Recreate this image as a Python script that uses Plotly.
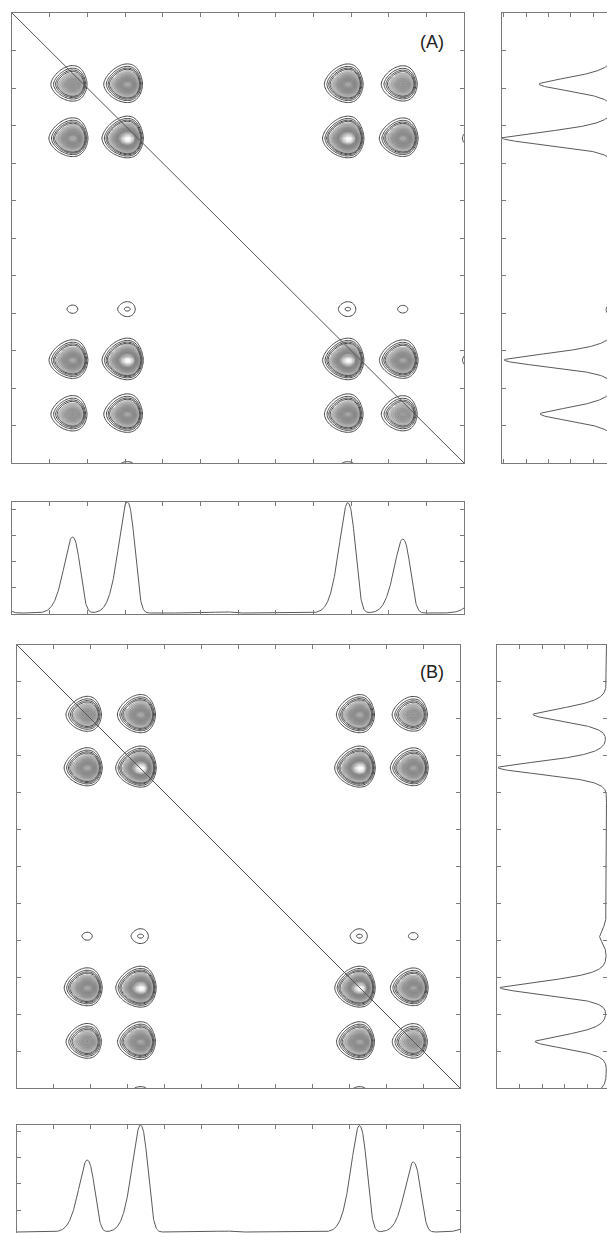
import numpy as np
import plotly.graph_objects as go

# ---------------- data ----------------
# chemical-shift axis: 12 tick intervals (units = tick intervals), 0 at left / top
# panel A: column (F2) peak list and row (F1) peak list
A_col_pos = [-0.35, 1.593, 3.045, 5.61, 8.901, 10.361, 12.35]
A_col_amp = [0.095, 0.724, 1.06, 0.012, 1.05, 0.705, 0.15]
A_row_pos = [1.893, 3.333, 7.89, 9.25, 10.69, 12.35]
A_row_amp = [0.707, 1.06, 0.068, 1.04, 0.697, 0.22]

# panel B
B_col_pos = [1.888, 3.331, 5.6, 9.263, 10.72, 12.35]
B_col_amp = [0.69, 1.025, 0.01, 1.02, 0.67, 0.08]
B_row_pos = [1.88, 3.32, 7.88, 9.28, 10.74, 12.35]
B_row_amp = [0.718, 1.06, 0.068, 1.04, 0.698, 0.22]

# line-shape (half width left, exponent left, half width right, exponent right)
COL_SHAPE = (0.26, 1.7, 0.24, 2.6)
ROW_SHAPE = (0.21, 1.55, 0.22, 1.8)

# contour levels (fraction of strongest cross peak)
LINE_LEVELS = dict(start=0.035, end=0.115, size=0.025)
TEXTURE_LEVELS = dict(start=0.14, end=0.6, size=0.05)

AXIS_TICK_STEP = 1
AXIS_SPAN = [0, 12]

labels = ["(A)", "(B)"]

# ---------------- layout geometry (pixels) ----------------
W, H = 607, 1233
GEOM = {
    "A": dict(main=(12, 464, 13, 463), right=(502, 607, 13, 463), bottom=(12, 464, 501.5, 614),
              label=(431.7, 41.5),
              right_range=[1.06, 0.057], right_tick0=0.188, right_dtick=0.214, right_mirror=False,
              bottom_range=[-0.0095, 1.062], bottom_tick0=-0.01, bottom_dtick=0.25, bottom_mirror="ticks"),
    "B": dict(main=(17, 460, 645, 1088), right=(497, 607, 645, 1088), bottom=(17, 460, 1125, 1233),
              label=(431.7, 671.5),
              right_range=[1.069, -0.005], right_tick0=0.188, right_dtick=0.219, right_mirror="ticks",
              bottom_range=[-0.0096, 1.025], bottom_tick0=0.21, bottom_dtick=0.25, bottom_mirror=False),
}


def profile(grid, pos, amp, shape):
    wl, pl, wr, pr = shape
    out = np.zeros_like(grid)
    for c, a in zip(pos, amp):
        d = grid - c
        left = d < 0
        w = np.where(left, wl, wr)
        p = np.where(left, pl, pr)
        out += a * np.exp(-np.log(2) * np.abs(d / w) ** p)
    return out


def xdom(x0, x1):
    return [x0 / W, x1 / W]


def ydom(y0, y1):
    return [max(0.0, 1 - y1 / H), 1 - y0 / H]


FRAME = "#7a7a7a"
base_axis = dict(showgrid=False, zeroline=False, showticklabels=False, ticks="inside",
                 ticklen=4, tickwidth=1, tickcolor=FRAME, showline=True, linecolor=FRAME,
                 linewidth=1.2, mirror="ticks", fixedrange=True)

FILL_SCALE = [[0.0, "#ffffff"], [0.112, "#ffffff"], [0.122, "#c8c8c8"], [0.3, "#a2a2a2"],
              [0.5, "#979797"], [0.7, "#aaaaaa"], [0.85, "#d6d6d6"], [0.95, "#f8f8f8"],
              [1.0, "#ffffff"]]

fig = go.Figure()
u = np.linspace(AXIS_SPAN[0], AXIS_SPAN[1], 361)
v = np.linspace(AXIS_SPAN[0], AXIS_SPAN[1], 361)
u1 = np.linspace(AXIS_SPAN[0], AXIS_SPAN[1], 1441)

layout = dict(width=W, height=H, margin=dict(l=0, r=0, t=0, b=0), paper_bgcolor="white",
              plot_bgcolor="white", showlegend=False, shapes=[], annotations=[])

panels = [("A", A_col_pos, A_col_amp, A_row_pos, A_row_amp),
          ("B", B_col_pos, B_col_amp, B_row_pos, B_row_amp)]

for k, (name, cpos, camp, rpos, ramp) in enumerate(panels):
    g = GEOM[name]
    i0 = 3 * k + 1
    ax_main, ax_right, ax_bot = i0, i0 + 1, i0 + 2
    sfx = lambda i: "" if i == 1 else str(i)

    C = profile(u, cpos, camp, COL_SHAPE)
    R = profile(v, rpos, ramp, ROW_SHAPE)
    z = (np.outer(R, C) / (C.max() * R.max())).astype(np.float32)

    xm, ym = "x" + sfx(ax_main), "y" + sfx(ax_main)
    fig.add_trace(go.Contour(x=u, y=v, z=z, xaxis=xm, yaxis=ym, zmin=0, zmax=1,
                             colorscale=FILL_SCALE, showscale=False,
                             contours=dict(coloring="heatmap", **TEXTURE_LEVELS),
                             line=dict(color="rgba(70,70,70,0.35)", width=0.5), hoverinfo="skip"))
    fig.add_trace(go.Contour(x=u, y=v, z=z, xaxis=xm, yaxis=ym, showscale=False,
                             contours=dict(coloring="none", **LINE_LEVELS),
                             line=dict(color="#444444", width=1), hoverinfo="skip"))

    # right (F1) projection
    Rl = profile(u1, rpos, ramp, ROW_SHAPE)
    fig.add_trace(go.Scatter(x=Rl, y=u1, mode="lines", xaxis="x" + sfx(ax_right),
                             yaxis="y" + sfx(ax_right), line=dict(color="#5a5a5a", width=1),
                             hoverinfo="skip"))
    # bottom (F2) projection
    Cl = profile(u1, cpos, camp, COL_SHAPE)
    fig.add_trace(go.Scatter(x=u1, y=Cl, mode="lines", xaxis="x" + sfx(ax_bot),
                             yaxis="y" + sfx(ax_bot), line=dict(color="#5a5a5a", width=1),
                             hoverinfo="skip"))

    mx0, mx1, my0, my1 = g["main"]
    rx0, rx1, ry0, ry1 = g["right"]
    bx0, bx1, by0, by1 = g["bottom"]

    layout["xaxis" + sfx(ax_main)] = dict(base_axis, domain=xdom(mx0, mx1), range=AXIS_SPAN,
                                          tick0=0, dtick=AXIS_TICK_STEP, anchor="y" + sfx(ax_main))
    layout["yaxis" + sfx(ax_main)] = dict(base_axis, domain=ydom(my0, my1), range=AXIS_SPAN[::-1],
                                          tick0=0, dtick=AXIS_TICK_STEP, anchor="x" + sfx(ax_main))

    layout["xaxis" + sfx(ax_right)] = dict(base_axis, domain=xdom(rx0, rx1), range=g["right_range"],
                                           tick0=g["right_tick0"], dtick=g["right_dtick"],
                                           anchor="y" + sfx(ax_right))
    layout["yaxis" + sfx(ax_right)] = dict(base_axis, domain=ydom(ry0, ry1), range=AXIS_SPAN[::-1],
                                           tick0=0, dtick=AXIS_TICK_STEP, mirror=g["right_mirror"],
                                           anchor="x" + sfx(ax_right))

    xb = dict(base_axis, domain=xdom(bx0, bx1), range=AXIS_SPAN, tick0=0, dtick=AXIS_TICK_STEP,
              anchor="y" + sfx(ax_bot))
    if g["bottom_mirror"] is False:
        xb.update(side="top", mirror=False)
    layout["xaxis" + sfx(ax_bot)] = xb
    layout["yaxis" + sfx(ax_bot)] = dict(base_axis, domain=ydom(by0, by1), range=g["bottom_range"],
                                         tick0=g["bottom_tick0"], dtick=g["bottom_dtick"],
                                         anchor="x" + sfx(ax_bot))

    layout["shapes"].append(dict(type="line", xref=xm, yref=ym, x0=AXIS_SPAN[0], y0=AXIS_SPAN[0],
                                 x1=AXIS_SPAN[1], y1=AXIS_SPAN[1], layer="above",
                                 line=dict(color="#555555", width=1)))
    lx, ly = g["label"]
    layout["annotations"].append(dict(text=labels[k], xref="paper", yref="paper", x=lx / W,
                                      y=1 - ly / H, xanchor="center", yanchor="middle",
                                      showarrow=False,
                                      font=dict(family="Liberation Sans, Arial", size=18,
                                                color="#222222")))

fig.update_layout(**layout)
fig.write_html("out.html", config={"displayModeBar": False},
               post_script="document.body.style.margin='0';document.body.style.overflow='hidden';")
